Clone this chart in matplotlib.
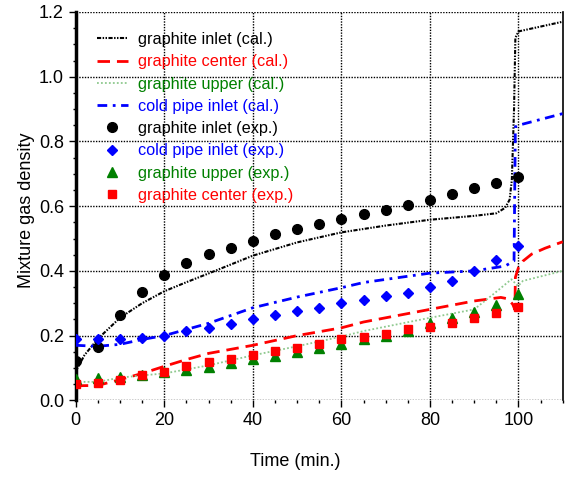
import numpy as np
import matplotlib.pyplot as plt
from matplotlib.ticker import MultipleLocator, FormatStrFormatter

plt.rcParams['font.family'] = ['Liberation Sans', 'DejaVu Sans']

# experimental points (every 5 min)
t_exp = [0, 5, 10, 15, 20, 25, 30, 35, 40, 45, 50, 55, 60, 65, 70, 75, 80, 85, 90, 95, 100]
gi_exp = [0.121, 0.164, 0.263, 0.335, 0.387, 0.425, 0.452, 0.472, 0.492, 0.513, 0.529, 0.545,
          0.559, 0.575, 0.589, 0.605, 0.619, 0.639, 0.656, 0.672, 0.691]
cp_exp = [0.188, 0.188, 0.188, 0.194, 0.200, 0.213, 0.223, 0.236, 0.251, 0.263, 0.277, 0.285,
          0.300, 0.310, 0.322, 0.333, 0.349, 0.369, 0.399, 0.433, 0.478]
gu_exp = [0.066, 0.069, 0.072, 0.077, 0.087, 0.093, 0.102, 0.116, 0.128, 0.137, 0.149, 0.162,
          0.173, 0.188, 0.200, 0.215, 0.240, 0.255, 0.273, 0.294, 0.328]
gc_exp = [0.050, 0.052, 0.062, 0.079, 0.088, 0.105, 0.119, 0.129, 0.139, 0.153, 0.163, 0.175,
          0.188, 0.195, 0.205, 0.221, 0.228, 0.240, 0.254, 0.270, 0.287]

# calculated curves
t_gi = [0, 2, 5, 10, 15, 20, 25, 30, 40, 50, 60, 70, 80, 90, 95, 97, 98, 98.5, 99, 99.3, 100, 105, 110]
gi_cal = [0.09, 0.14, 0.19, 0.255, 0.30, 0.337, 0.365, 0.392, 0.447, 0.488, 0.519, 0.540, 0.558,
          0.570, 0.578, 0.595, 0.62, 0.68, 0.90, 1.12, 1.14, 1.155, 1.17]
t_cp = [0, 5, 10, 15, 20, 25, 30, 40, 50, 60, 65, 80, 90, 97, 99, 99.3, 100, 105, 110]
cp_cal = [0.17, 0.167, 0.173, 0.188, 0.200, 0.219, 0.238, 0.286, 0.319, 0.348, 0.364, 0.393,
          0.400, 0.415, 0.431, 0.845, 0.85, 0.868, 0.886]
t_gc = [0, 5, 10, 15, 20, 25, 30, 40, 50, 60, 65, 80, 90, 96, 97.5, 98.7, 99.2, 99.3, 100, 101, 103, 106, 110]
gc_cal = [0.045, 0.046, 0.064, 0.083, 0.105, 0.126, 0.145, 0.170, 0.200, 0.224, 0.242, 0.281,
          0.307, 0.318, 0.314, 0.297, 0.28, 0.38, 0.41, 0.43, 0.452, 0.47, 0.49]
t_gu = [0, 5, 10, 15, 20, 30, 40, 50, 60, 65, 80, 90, 94.6, 98.4, 99.9, 101, 110]
gu_cal = [0.057, 0.057, 0.07, 0.077, 0.083, 0.108, 0.139, 0.167, 0.197, 0.214, 0.255, 0.281,
          0.331, 0.374, 0.353, 0.369, 0.40]

fig = plt.figure(figsize=(5.65, 4.8), dpi=100)
ax = fig.add_axes([0.134, 0.166, 0.862, 0.809])

ax.plot(t_gi, gi_cal, color='black', lw=1.5, ls=(0, (2, 0.7, 0.7, 0.7, 0.7, 0.7)),
        label='graphite inlet (cal.)', zorder=3)
ax.plot(t_gc, gc_cal, color='red', lw=2, ls=(0, (4.5, 2.5)), label='graphite center (cal.)', zorder=3)
ax.plot(t_gu, gu_cal, color='#8fc98f', lw=1.3, ls=(0, (1, 1.2)), label='graphite upper (cal.)', zorder=3)
ax.plot(t_cp, cp_cal, color='blue', lw=2, ls=(0, (3.5, 2, 1, 2)), label='cold pipe inlet (cal.)', zorder=3)

ax.plot(t_exp, gi_exp, 'o', color='black', ms=7, ls='none', label='graphite inlet (exp.)', zorder=4)
ax.plot(t_exp, cp_exp, 'D', color='blue', ms=5.5, ls='none', label='cold pipe inlet (exp.)', zorder=4)
ax.plot(t_exp, gu_exp, '^', color='green', ms=6.5, ls='none', label='graphite upper (exp.)', zorder=4)
ax.plot(t_exp, gc_exp, 's', color='red', ms=5.8, ls='none', label='graphite center (exp.)', zorder=4)

ax.set_xlim(0, 110)
ax.set_ylim(0, 1.2)
ax.xaxis.set_major_locator(MultipleLocator(20))
ax.xaxis.set_minor_locator(MultipleLocator(5))
ax.yaxis.set_major_locator(MultipleLocator(0.2))
ax.yaxis.set_minor_locator(MultipleLocator(0.05))
ax.yaxis.set_major_formatter(FormatStrFormatter('%.1f'))
ax.tick_params(axis='both', which='major', labelsize=13, length=5, width=1, direction='out')
ax.tick_params(axis='both', which='minor', length=2.5, width=1, direction='out')

ax.grid(True, which='major', color='black', ls=(0, (1, 1)), lw=1)
ax.spines['left'].set_linewidth(2.5)
ax.spines['bottom'].set_visible(False)
ax.spines['top'].set_visible(False)
ax.spines['right'].set_linewidth(1.2)

ax.set_xlabel('Time (min.)', fontsize=13)
ax.set_ylabel('Mixture gas density', fontsize=13)
ax.xaxis.set_label_coords(0.45, -0.135)
ax.yaxis.set_label_coords(-0.083, 0.49)

leg = ax.legend(loc='upper left', bbox_to_anchor=(0.02, 0.978), frameon=False, fontsize=11.7,
                handlelength=1.9, handletextpad=0.65, labelspacing=0.45, borderaxespad=0.3)
for txt, line in zip(leg.get_texts(), leg.get_lines()):
    txt.set_color(line.get_color() if line.get_color() != '#8fc98f' else 'green')

fig.savefig('out.png', dpi=100)
